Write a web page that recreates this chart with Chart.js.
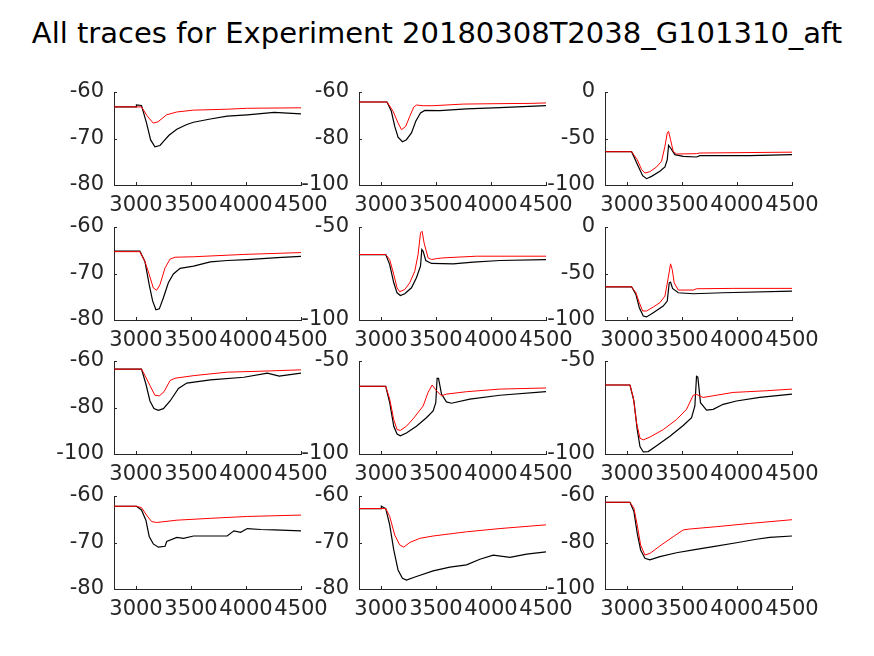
<!DOCTYPE html>
<html>
<head>
<meta charset="utf-8">
<script src="https://cdn.jsdelivr.net/npm/chart.js@4.4.1/dist/chart.umd.min.js"></script>
<style>
  body { margin: 0; background: #fff; }
  #wrap { position: relative; width: 874px; height: 656px; overflow: hidden; }
  #title { position: absolute; left: 0; width: 874px; top: 14px; text-align: center;
           font: 29px "DejaVu Sans", sans-serif; color: #000; line-height: 38px; white-space: nowrap; }
  canvas { position: absolute; }
</style>
</head>
<body>
<div id="wrap">
  <div id="title">All traces for Experiment 20180308T2038_G101310_aft</div>
</div>
<script>
// time axis (ms) and tick labels
var xMin = 2800, xMax = 4500;
var xTicks = [3000, 3500, 4000, 4500];

// traces, [time, value]
var red11 = [[2800,-63.2],[3050,-63.2],[3100,-65.1],[3157,-66.7],[3200,-66.4],[3279,-64.9],[3371,-64.3],[3523,-63.9],[3829,-63.7],[4012,-63.5],[4500,-63.4]];
var black11 = [[2800,-63.2],[3000,-63.2],[3004,-62.8],[3050,-62.9],[3096,-66.7],[3133,-70.3],[3172,-71.8],[3218,-71.5],[3250,-70.6],[3300,-69.3],[3371,-68.0],[3462,-67.0],[3523,-66.5],[3676,-65.8],[3829,-65.2],[4012,-64.9],[4256,-64.4],[4500,-64.7]];

var red12 = [[2800,-64.3],[3055,-64.3],[3110,-68.3],[3155,-73.3],[3186,-76.2],[3225,-74.8],[3261,-70.5],[3298,-66.5],[3322,-65.6],[3383,-65.9],[3474,-65.9],[3747,-65.2],[4081,-65.0],[4354,-64.9],[4500,-64.7]];
var black12 = [[2800,-64.3],[3055,-64.3],[3094,-68.3],[3125,-74.8],[3155,-79.4],[3195,-81.4],[3231,-80.5],[3277,-77.6],[3316,-72.6],[3359,-69.0],[3398,-67.9],[3535,-68.0],[3778,-67.3],[4081,-66.7],[4500,-65.9]];

var red13 = [[2800,-64.2],[3042,-64.2],[3093,-72.8],[3133,-83.5],[3163,-87.1],[3208,-85.7],[3269,-80.6],[3314,-74.5],[3345,-58.4],[3366,-44.1],[3378,-42.3],[3396,-51.3],[3420,-63.8],[3450,-66.7],[3632,-66.3],[3662,-65.6],[4500,-64.7]];
var black13 = [[2800,-64.2],[3042,-64.2],[3102,-79.9],[3142,-90.0],[3178,-93.2],[3223,-90.7],[3299,-85.3],[3345,-80.6],[3366,-72.8],[3378,-57.3],[3396,-60.2],[3435,-67.4],[3511,-69.2],[3632,-69.9],[3662,-68.5],[4116,-68.5],[4500,-67.4]];

var red21 = [[2800,-65.3],[3035,-65.3],[3081,-67.4],[3120,-70.2],[3157,-73.1],[3188,-73.6],[3218,-72.4],[3264,-68.8],[3310,-66.9],[3355,-66.5],[3523,-66.4],[3981,-65.9],[4500,-65.5]];
var black21 = [[2800,-65.2],[3035,-65.2],[3081,-67.4],[3120,-72.4],[3151,-75.9],[3181,-77.8],[3212,-77.6],[3249,-75.2],[3294,-72.0],[3340,-70.1],[3401,-68.9],[3523,-68.4],[3676,-67.5],[3829,-67.2],[4012,-67.0],[4286,-66.6],[4500,-66.3]];

var red22 = [[2800,-64.8],[3043,-64.8],[3079,-67.5],[3116,-75.5],[3146,-82.7],[3170,-84.8],[3216,-83.6],[3261,-80.0],[3307,-73.8],[3337,-64.8],[3359,-53.2],[3374,-52.3],[3392,-58.6],[3428,-66.6],[3459,-67.5],[3504,-67.0],[3565,-66.6],[3869,-65.7],[4500,-65.7]];
var black22 = [[2800,-64.8],[3043,-64.8],[3079,-70.2],[3116,-80.0],[3146,-85.4],[3176,-86.8],[3216,-85.9],[3277,-82.7],[3322,-77.3],[3359,-71.1],[3371,-62.1],[3383,-63.0],[3407,-68.0],[3459,-69.6],[3656,-69.8],[3838,-68.9],[4081,-68.0],[4500,-67.5]];

var red23 = [[2800,-64.3],[3042,-64.3],[3081,-70.7],[3112,-81.4],[3142,-90.3],[3178,-90.3],[3239,-86.0],[3299,-81.4],[3345,-74.3],[3375,-54.6],[3396,-39.6],[3411,-45.7],[3429,-60.0],[3466,-67.8],[3602,-67.8],[3632,-66.4],[3965,-66.0],[4500,-66.0]];
var black23 = [[2800,-64.3],[3042,-64.3],[3081,-72.5],[3112,-86.8],[3148,-95.7],[3178,-96.7],[3239,-92.1],[3329,-85.0],[3366,-79.6],[3384,-60.0],[3396,-59.3],[3414,-66.0],[3466,-70.7],[3602,-71.8],[3874,-70.7],[4500,-68.9]];

var red31 = [[2800,-63.5],[3050,-63.5],[3090,-67.0],[3127,-70.6],[3172,-74.7],[3212,-75.0],[3255,-73.2],[3310,-68.4],[3355,-67.4],[3523,-66.3],[3829,-64.8],[4134,-64.4],[4500,-63.8]];
var black31 = [[2800,-63.5],[3050,-63.5],[3090,-69.9],[3127,-77.2],[3163,-80.4],[3203,-81.2],[3249,-80.5],[3310,-77.2],[3386,-71.8],[3462,-69.5],[3676,-68.1],[3981,-67.0],[4195,-65.2],[4302,-66.5],[4500,-65.2]];

var red32 = [[2800,-63.6],[3043,-63.6],[3079,-70.5],[3116,-81.5],[3146,-86.9],[3176,-87.3],[3231,-85.1],[3292,-81.1],[3383,-74.2],[3428,-66.9],[3465,-62.9],[3504,-66.0],[3550,-68.7],[3595,-67.8],[3778,-66.5],[4081,-65.1],[4500,-64.5]];
var black32 = [[2800,-63.6],[3043,-63.6],[3079,-72.4],[3116,-85.1],[3146,-89.3],[3176,-90.2],[3231,-88.7],[3322,-85.1],[3413,-80.5],[3474,-76.9],[3498,-72.4],[3510,-59.3],[3523,-59.3],[3550,-67.8],[3595,-72.0],[3641,-72.7],[3808,-70.5],[4081,-68.4],[4500,-66.5]];

var red33 = [[2800,-62.9],[3027,-62.9],[3057,-69.6],[3087,-83.3],[3118,-91.5],[3148,-92.4],[3208,-90.9],[3329,-86.9],[3450,-81.5],[3541,-76.0],[3602,-68.4],[3632,-68.0],[3692,-69.6],[3783,-68.7],[3965,-66.9],[4267,-66.0],[4500,-65.1]];
var black33 = [[2800,-62.9],[3027,-62.9],[3063,-71.5],[3093,-86.9],[3118,-96.0],[3148,-98.9],[3193,-98.7],[3269,-95.6],[3390,-90.5],[3511,-84.7],[3587,-80.5],[3617,-74.2],[3632,-58.2],[3644,-58.7],[3668,-72.4],[3723,-76.4],[3783,-76.0],[3874,-73.3],[3995,-71.5],[4207,-69.6],[4500,-67.8]];

var red41 = [[2800,-62.2],[3004,-62.2],[3050,-62.5],[3096,-64.1],[3142,-65.5],[3188,-65.7],[3371,-65.2],[3676,-64.8],[4012,-64.4],[4500,-64.1]];
var black41 = [[2800,-62.2],[3004,-62.2],[3050,-63.0],[3090,-65.2],[3120,-68.7],[3157,-70.3],[3203,-71.0],[3264,-70.8],[3279,-69.8],[3371,-68.9],[3432,-69.1],[3523,-68.6],[3829,-68.6],[3890,-67.5],[3951,-67.8],[4012,-67.0],[4134,-67.2],[4256,-67.3],[4500,-67.5]];

var red42 = [[2800,-62.7],[3043,-62.7],[3079,-64.4],[3125,-68.4],[3170,-70.5],[3207,-71.0],[3261,-70.0],[3353,-69.1],[3474,-68.6],[3778,-67.7],[4081,-67.0],[4500,-66.2]];
var black42 = [[2800,-62.7],[3000,-62.7],[3003,-62.2],[3043,-62.7],[3079,-66.2],[3116,-71.6],[3155,-75.9],[3195,-77.7],[3231,-78.1],[3322,-77.3],[3474,-76.1],[3626,-75.3],[3778,-74.8],[3899,-73.6],[4020,-72.7],[4172,-73.2],[4324,-72.5],[4500,-72.0]];

var red43 = [[2800,-62.7],[3027,-62.7],[3063,-65.3],[3093,-72.5],[3124,-81.1],[3163,-85.4],[3208,-84.7],[3299,-81.5],[3420,-77.5],[3511,-74.6],[3571,-74.2],[3813,-73.2],[4116,-71.8],[4500,-70.2]];
var black43 = [[2800,-62.7],[3027,-62.7],[3063,-66.7],[3093,-76.1],[3124,-83.2],[3163,-86.8],[3208,-87.5],[3299,-86.1],[3450,-84.4],[3602,-83.2],[3783,-81.8],[3995,-80.1],[4176,-78.6],[4297,-77.8],[4500,-77.2]];

// y limits and y tick labels per panel
var yRange = {
  '11': [-80, -60, [-80, -70, -60]],
  '12': [-100, -60, [-100, -80, -60]],
  '13': [-100, 0, [-100, -50, 0]],
  '21': [-80, -60, [-80, -70, -60]],
  '22': [-100, -50, [-100, -50]],
  '23': [-100, 0, [-100, -50, 0]],
  '31': [-100, -60, [-100, -80, -60]],
  '32': [-100, -50, [-100, -50]],
  '33': [-100, -50, [-100, -50]],
  '41': [-80, -60, [-80, -70, -60]],
  '42': [-80, -60, [-80, -70, -60]],
  '43': [-100, -60, [-100, -80, -60]]
};

var traces = {
  '11': [red11, black11], '12': [red12, black12], '13': [red13, black13],
  '21': [red21, black21], '22': [red22, black22], '23': [red23, black23],
  '31': [red31, black31], '32': [red32, black32], '33': [red33, black33],
  '41': [red41, black41], '42': [red42, black42], '43': [red43, black43]
};

var colLeft = [114, 359, 605];
var rowTop = [92, 227, 361, 496];
var axW = 187, axH = 93;
var padL = 70, padT = 15, padR = 30, padB = 40;
var inkColor = '#262626';

function toXY(arr) {
  return arr.map(function (p) { return { x: p[0], y: p[1] }; });
}

function plainLabel(v) { return String(v); }

// short tick marks pointing into the axes, like the original
var innerTicks = {
  id: 'innerTicks',
  afterDraw: function (chart) {
    var c = chart.ctx, a = chart.chartArea;
    c.save();
    c.strokeStyle = inkColor;
    c.lineWidth = 1;
    c.beginPath();
    chart.scales.x.ticks.forEach(function (t) {
      var px = Math.round(chart.scales.x.getPixelForValue(t.value)) + 0.5;
      c.moveTo(px, a.bottom);
      c.lineTo(px, a.bottom - 3);
    });
    chart.scales.y.ticks.forEach(function (t) {
      var py = Math.round(chart.scales.y.getPixelForValue(t.value)) + 0.5;
      c.moveTo(a.left, py);
      c.lineTo(a.left + 3, py);
    });
    c.stroke();
    c.restore();
  }
};

var wrap = document.getElementById('wrap');

Object.keys(traces).forEach(function (key) {
  var r = +key[0] - 1, col = +key[1] - 1;
  var cv = document.createElement('canvas');
  cv.width = padL + axW + padR;
  cv.height = padT + axH + padB;
  cv.style.left = (colLeft[col] - padL) + 'px';
  cv.style.top = (rowTop[r] - padT) + 'px';
  wrap.appendChild(cv);

  var yr = yRange[key];
  new Chart(cv, {
    type: 'line',
    data: {
      datasets: [
        { data: toXY(traces[key][0]), borderColor: '#ff0000', borderWidth: 1 },
        { data: toXY(traces[key][1]), borderColor: '#000000', borderWidth: 1.2 }
      ]
    },
    options: {
      responsive: false,
      animation: false,
      devicePixelRatio: 1,
      layout: { padding: { left: 0, top: padT, right: padR, bottom: 0 } },
      elements: { point: { radius: 0 }, line: { tension: 0 } },
      plugins: { legend: { display: false }, tooltip: { enabled: false } },
      scales: {
        x: {
          type: 'linear', min: xMin, max: xMax,
          afterBuildTicks: function (s) { s.ticks = xTicks.map(function (v) { return { value: v }; }); },
          afterFit: function (s) { s.height = padB; s.paddingLeft = 0; s.paddingRight = 0; },
          grid: { drawOnChartArea: false, drawTicks: false },
          border: { color: inkColor, width: 1 },
          ticks: { color: inkColor, padding: 8, maxRotation: 0, autoSkip: false, callback: plainLabel,
                   font: { family: 'DejaVu Sans', size: 21 } }
        },
        y: {
          type: 'linear', min: yr[0], max: yr[1],
          afterBuildTicks: function (s) { s.ticks = yr[2].map(function (v) { return { value: v }; }); },
          afterFit: function (s) { s.width = padL; s.paddingTop = 0; s.paddingBottom = 0; },
          grid: { drawOnChartArea: false, drawTicks: false },
          border: { color: inkColor, width: 1 },
          ticks: { color: inkColor, padding: 10, autoSkip: false, callback: plainLabel,
                   font: { family: 'DejaVu Sans', size: 21 } }
        }
      }
    },
    plugins: [innerTicks]
  });
});
</script>
</body>
</html>
